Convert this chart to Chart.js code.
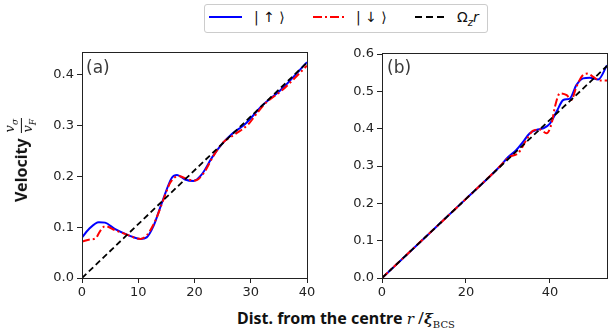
<!DOCTYPE html>
<html>
<head>
<meta charset="utf-8">
<script src="https://cdn.jsdelivr.net/npm/chart.js@4"></script>
<style>
  body { margin: 0; background: #fff; width: 611px; height: 329px; position: relative; overflow: hidden; font-family: "DejaVu Sans", sans-serif; }
  canvas { position: absolute; }
  .abs { position: absolute; white-space: nowrap; }
  #legend { left: 204px; top: 4px; width: 282px; height: 27px; border: 1px solid #ccc; border-radius: 3px; }
  .leg-txt { position: absolute; top: 4px; font-size: 14px; color: #111; }
  .panel-tag { font-size: 17px; color: #3a3a3a; }
  .math { font-family: "DejaVu Serif", serif; font-style: italic; font-weight: normal; }
</style>
</head>
<body>
<div id="legend" class="abs">
  <svg class="abs" style="left:4px;top:10px" width="34" height="4"><line x1="0" y1="2" x2="33" y2="2" stroke="#0000ff" stroke-width="2"/></svg>
  <span class="leg-txt" style="left:49px">| ↑ ⟩</span>
  <svg class="abs" style="left:108px;top:10px" width="32" height="4"><line x1="0" y1="2" x2="31" y2="2" stroke="#ff0000" stroke-width="2" stroke-dasharray="9,3,2,3"/></svg>
  <span class="leg-txt" style="left:151px">| ↓ ⟩</span>
  <svg class="abs" style="left:210px;top:10px" width="32" height="4"><line x1="0" y1="2" x2="31" y2="2" stroke="#000" stroke-width="2" stroke-dasharray="7,4"/></svg>
  <span class="leg-txt" style="left:252px">Ω<sub style="font-style:italic;font-size:10px">z</sub><i>r</i></span>
</div>

<canvas id="chartA" width="285" height="260" style="left:30px;top:45px"></canvas>
<canvas id="chartB" width="281" height="260" style="left:330px;top:45px"></canvas>

<div class="abs panel-tag" style="left:86px;top:57px">(a)</div>
<div class="abs panel-tag" style="left:387px;top:57px">(b)</div>

<div class="abs" style="left:21px;top:160px;transform:translate(-50%,-50%) rotate(-90deg);font-family:'Noto Sans',sans-serif;font-weight:bold;font-size:16px;color:#111;display:flex;align-items:center">
  <span>Velocity</span>
  <span style="display:inline-flex;flex-direction:column;align-items:center;margin-left:5px;font-size:13px;line-height:12px" class="math">
    <span style="border-bottom:1px solid #111;padding:0 1px">v<sub style="font-size:9px">σ</sub></span>
    <span>v<sub style="font-size:9px">F</sub></span>
  </span>
</div>

<div class="abs" style="left:237px;top:307px;font-family:'Noto Sans',sans-serif;font-weight:bold;font-size:16px;color:#111">
  Dist. from the centre <span class="math" style="font-size:15px">r</span> <span style="font-weight:normal">/</span><span class="math" style="font-weight:bold;font-size:15px">ξ</span><sub style="font-family:'DejaVu Serif',serif;font-weight:normal;font-size:10px">BCS</sub>
</div>

<script>
// slope of the rigid-rotation line, Omega_z
const omegaZ = 0.0106;

// panel (a)
const xMaxA = 40;
const yMaxA = 0.445;
const xTicksA = [0, 10, 20, 30, 40];
const yTicksA = [0, 0.1, 0.2, 0.3, 0.4];
const rUpA = [0, 1.2, 3, 4.1, 5.9, 8.3, 10.4, 11.5, 12.7, 14.2, 16.0, 16.9, 18.3, 19.8, 21.3, 23.1, 24.9, 26.6, 29.0, 32.0, 35.5, 40];
const vUpA = [0.080, 0.096, 0.110, 0.109, 0.096, 0.084, 0.077, 0.080, 0.102, 0.148, 0.198, 0.203, 0.194, 0.191, 0.204, 0.237, 0.264, 0.283, 0.303, 0.339, 0.372, 0.425];
const rDownA = [0, 1.5, 2.4, 3.2, 4.1, 5.9, 8.3, 10.4, 11.5, 13.0, 14.5, 15.7, 17.2, 18.9, 20.1, 21.6, 23.4, 25.1, 27.2, 29.6, 30.8, 32.5, 35.5, 40];
const vDownA = [0.072, 0.076, 0.078, 0.092, 0.102, 0.094, 0.084, 0.077, 0.084, 0.112, 0.155, 0.188, 0.201, 0.194, 0.192, 0.206, 0.241, 0.267, 0.283, 0.303, 0.320, 0.343, 0.369, 0.418];

// panel (b)
const xMaxB = 53.6;
const yMaxB = 0.603;
const xTicksB = [0, 20, 40];
const yTicksB = [0, 0.1, 0.2, 0.3, 0.4, 0.5, 0.6];
const rUpB = [0, 10, 20, 28, 30, 32, 33.6, 35.2, 36.8, 38.4, 40, 41.6, 43.2, 44.75, 46.3, 47.9, 49.5, 51.5, 53.6];
const vUpB = [0, 0.106, 0.212, 0.298, 0.3235, 0.343, 0.365, 0.388, 0.397, 0.401, 0.414, 0.446, 0.477, 0.481, 0.517, 0.535, 0.537, 0.532, 0.570];
const rDownB = [0, 10, 20, 28, 30.4, 32.4, 34.4, 36.0, 37.6, 39.2, 40.4, 41.2, 42.4, 44.0, 45.1, 46.3, 47.9, 49.1, 50.3, 51.9, 53.6];
const vDownB = [0, 0.106, 0.212, 0.298, 0.325, 0.334, 0.370, 0.395, 0.398, 0.388, 0.414, 0.459, 0.495, 0.490, 0.477, 0.512, 0.544, 0.548, 0.539, 0.529, 0.529];

const toPts = (xs, ys) => xs.map((x, i) => ({ x: x, y: ys[i] }));

const frame = {
    id: 'frame',
    afterDraw(chart) {
        const { ctx, chartArea: a } = chart;
        ctx.save();
        ctx.strokeStyle = '#222';
        ctx.lineWidth = 1;
        ctx.strokeRect(Math.round(a.left) + 0.5, Math.round(a.top) + 0.5, Math.round(a.right - a.left), Math.round(a.bottom - a.top));
        ctx.restore();
    }
};

function makeChart(id, upPts, downPts, xMax, yMax, xTicks, yTicks, pad) {
    const tickFont = { family: 'DejaVu Sans', size: 13 };
    return new Chart(document.getElementById(id), {
        type: 'line',
        data: {
            datasets: [
                { data: upPts, borderColor: '#0000ff', borderWidth: 2, pointRadius: 0, cubicInterpolationMode: 'monotone', order: 3 },
                { data: downPts, borderColor: '#ff0000', borderWidth: 2, borderDash: [8, 3, 2, 3], pointRadius: 0, cubicInterpolationMode: 'monotone', order: 2 },
                { data: [{ x: 0, y: 0 }, { x: xMax, y: omegaZ * xMax }], borderColor: '#000', borderWidth: 1.8, borderDash: [6, 3.5], pointRadius: 0, order: 1 }
            ]
        },
        options: {
            responsive: false,
            animation: false,
            layout: { padding: pad },
            plugins: { legend: { display: false }, tooltip: { enabled: false } },
            scales: {
                x: {
                    type: 'linear', min: 0, max: xMax,
                    afterBuildTicks: s => { s.ticks = xTicks.map(v => ({ value: v })); },
                    afterFit: s => { s.height = 25; s.paddingLeft = 0; s.paddingRight = 0; },
                    grid: { drawOnChartArea: false, tickLength: 5, color: '#222' },
                    border: { color: '#222' },
                    ticks: { font: tickFont, color: '#222', padding: 2, maxRotation: 0, callback: v => String(v) }
                },
                y: {
                    type: 'linear', min: 0, max: yMax,
                    afterBuildTicks: s => { s.ticks = yTicks.map(v => ({ value: v })); },
                    afterFit: s => { s.width = 42; s.paddingTop = 0; s.paddingBottom = 0; },
                    grid: { drawOnChartArea: false, tickLength: 5, color: '#222' },
                    border: { color: '#222' },
                    ticks: { font: tickFont, color: '#222', padding: 3, callback: v => v.toFixed(1) }
                }
            }
        },
        plugins: [frame]
    });
}

makeChart('chartA', toPts(rUpA, vUpA), toPts(rDownA, vDownA), xMaxA, yMaxA, xTicksA, yTicksA, { left: 10, right: 8, top: 7, bottom: 2 });
makeChart('chartB', toPts(rUpB, vUpB), toPts(rDownB, vDownB), xMaxB, yMaxB, xTicksB, yTicksB, { left: 10, right: 4, top: 8, bottom: 2 });
</script>
</body>
</html>
